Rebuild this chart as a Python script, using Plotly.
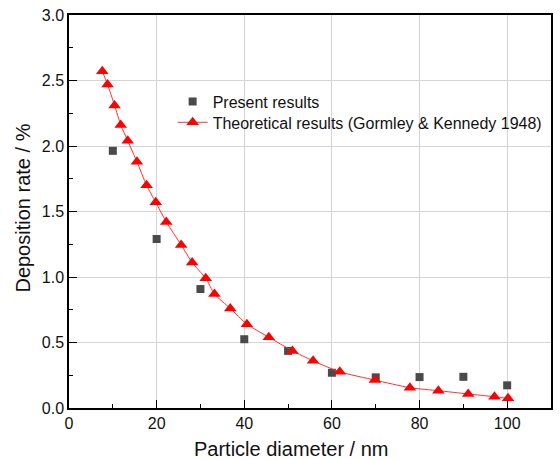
import plotly.graph_objects as go

present_x = [10, 20, 30, 40, 50, 60, 70, 80, 90, 100]
present_y = [1.963, 1.29, 0.908, 0.525, 0.436, 0.269, 0.234, 0.236, 0.238, 0.173]

theory_x = [7.6, 8.8, 10.4, 11.8, 13.4, 15.5, 17.7, 19.8, 22.2, 25.6, 28.1, 31.2, 33.2,
            36.8, 40.6, 45.6, 51.0, 55.7, 61.8, 69.8, 77.8, 84.3, 91.1, 97.1, 100.2]
theory_y = [2.57, 2.47, 2.31, 2.16, 2.04, 1.88, 1.70, 1.57, 1.42, 1.245, 1.11, 0.99, 0.87,
            0.76, 0.64, 0.54, 0.436, 0.36, 0.276, 0.213, 0.155, 0.132, 0.107, 0.086, 0.074]

x_ticks = [0, 20, 40, 60, 80, 100]
y_ticks = [0.0, 0.5, 1.0, 1.5, 2.0, 2.5, 3.0]

FONT = "Liberation Sans, Arial, sans-serif"

fig = go.Figure()
fig.add_trace(go.Scatter(
    x=present_x, y=present_y, mode="markers", name="Present results",
    marker=dict(symbol="square", size=8, color="#4a4a4a"),
    legend="legend",
))
fig.add_trace(go.Scatter(
    x=theory_x, y=theory_y, mode="lines+markers",
    name="Theoretical results (Gormley & Kennedy 1948)",
    line=dict(color="#ff3030", width=1, shape="spline", smoothing=0.6),
    marker=dict(symbol="triangle-up", size=11, color="#ff0000"),
    legend="legend2",
))

axis_common = dict(
    showline=True, linecolor="black", linewidth=1.5, mirror=True,
    showgrid=True, gridcolor="#d4d4d4", gridwidth=1,
    ticks="inside", ticklen=8, tickwidth=1.2, tickcolor="black",
    zeroline=False,
    tickfont=dict(family=FONT, size=16, color="#111"),
)

fig.update_xaxes(range=[0, 110], tickvals=x_ticks, ticktext=[str(v) for v in x_ticks],
                 minor=dict(ticks="inside", ticklen=4, dtick=10, tick0=0, tickcolor="black", showgrid=False),
                 **axis_common)
fig.update_yaxes(range=[0, 3.0], tickvals=y_ticks, ticktext=[f"{v:.1f}" for v in y_ticks],
                 minor=dict(ticks="inside", ticklen=4, dtick=0.25, tick0=0, tickcolor="black", showgrid=False),
                 **axis_common)

fig.add_annotation(text="Particle diameter / nm", xref="paper", yref="paper",
                   x=0.462, y=-0.104, showarrow=False, xanchor="center", yanchor="middle",
                   font=dict(family=FONT, size=20, color="#111"))
fig.add_annotation(text="Deposition rate / %", xref="paper", yref="paper",
                   x=-0.095, y=0.508, showarrow=False, xanchor="center", yanchor="middle",
                   textangle=-90, font=dict(family=FONT, size=20, color="#111"))

legend_common = dict(xanchor="left", yanchor="top", bgcolor="rgba(0,0,0,0)", borderwidth=0,
                     font=dict(family=FONT, size=16, color="#111"), itemwidth=30)

fig.update_layout(
    width=560, height=459,
    margin=dict(l=69, r=7, t=14, b=51),
    paper_bgcolor="white", plot_bgcolor="white",
    showlegend=True,
    legend=dict(x=0.215, y=0.823, **legend_common),
    legend2=dict(x=0.215, y=0.77, **legend_common),
)

fig.write_html("out.html", config={"displayModeBar": False},
               post_script="document.body.style.margin='0';")
